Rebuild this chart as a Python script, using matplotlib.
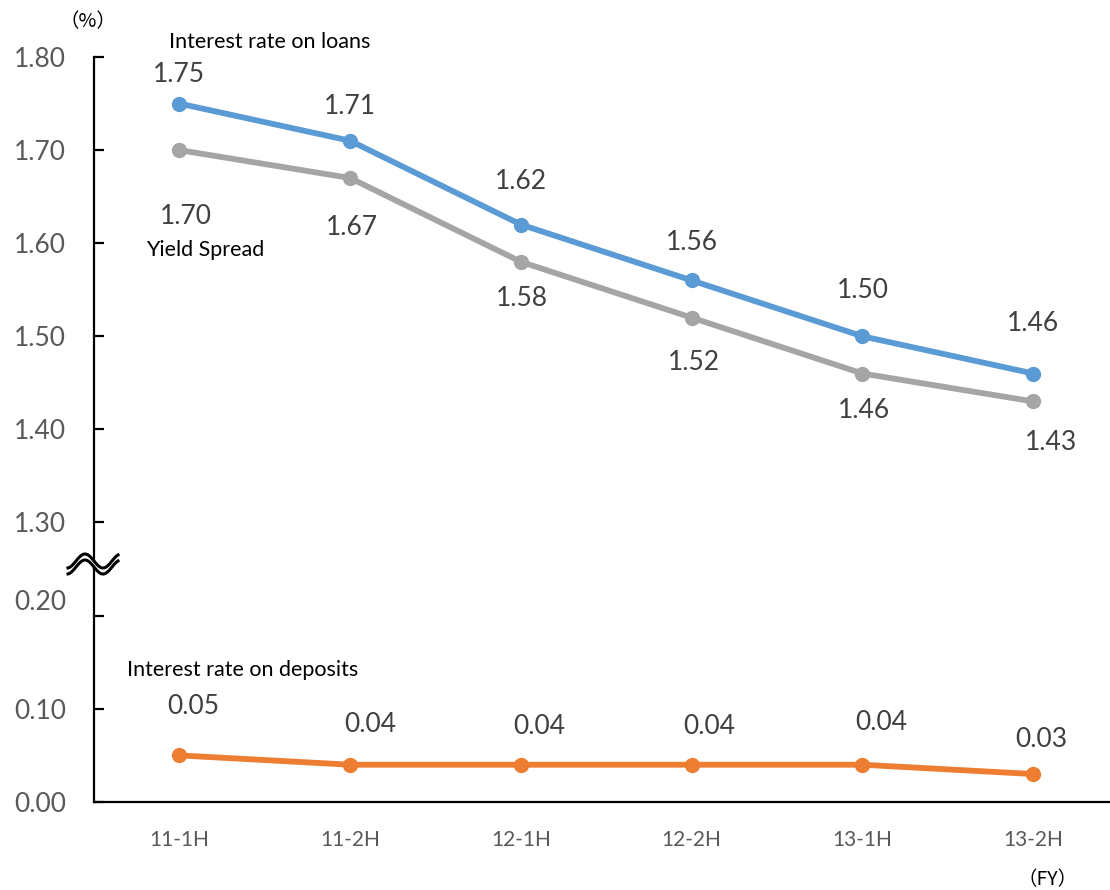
import matplotlib.pyplot as plt
import matplotlib.transforms as mtransforms
import numpy as np

plt.rcParams['font.family'] = ['Lato', 'DejaVu Sans']

# Data (%)
periods = ['11-1H', '11-2H', '12-1H', '12-2H', '13-1H', '13-2H']
loans = [1.75, 1.71, 1.62, 1.56, 1.50, 1.46]
spread = [1.70, 1.67, 1.58, 1.52, 1.46, 1.43]
deposits = [0.05, 0.04, 0.04, 0.04, 0.04, 0.03]

# label offsets in pixels (dx, dy), screen-up positive
loan_off = [(0, 29), (0, 34), (0, 43), (0, 38), (0, 46), (0, 50)]
spread_off = [(7, -66), (2, -49), (1, -37), (2, -45), (2, -37), (18, -41)]
dep_off = [(14, 49), (20, 40), (18, 38), (18, 38), (19, 42), (8, 35)]

blue = '#5B9BD5'
gray = '#A5A5A5'
orange = '#ED7D31'
tick_col = '#595959'
lab_col = '#404040'

W, H = 1110, 890
fig = plt.figure(figsize=(W / 100, H / 100), dpi=100)

left = 94 / W
ax_top_y, brk_y, ax_bot_y = 57, 569, 802
ax_t = fig.add_axes([left, 1 - brk_y / H, 1 - left, (brk_y - ax_top_y) / H])
ax_b = fig.add_axes([left, 1 - ax_bot_y / H, 1 - left, (ax_bot_y - brk_y) / H])

x = np.arange(len(periods))
for ax in (ax_t, ax_b):
    ax.set_xlim(-0.5, 5.45)
    for s in ('top', 'right'):
        ax.spines[s].set_visible(False)
    ax.spines['left'].set_linewidth(1.6)
    ax.tick_params(axis='y', direction='in', length=7, width=1.6,
                   labelsize=19, labelcolor=tick_col, pad=20)
    ax.patch.set_alpha(0)

ax_t.set_ylim(1.25, 1.80)
ax_t.set_yticks([1.30, 1.40, 1.50, 1.60, 1.70, 1.80])
ax_t.set_yticklabels(['%.2f' % v for v in ax_t.get_yticks()])
ax_t.spines['bottom'].set_visible(False)
ax_t.set_xticks([])

ax_b.set_ylim(0, 0.25)
ax_b.set_yticks([0.0, 0.1, 0.2])
ax_b.set_yticklabels(['%.2f' % v for v in ax_b.get_yticks()])
ax_b.spines['bottom'].set_linewidth(1.6)
ax_b.set_xticks(x)
ax_b.set_xticklabels(periods)
ax_b.tick_params(axis='x', length=0, labelsize=15, labelcolor=tick_col, pad=20)

# the 0.20 label sits a little above its tick
lbl = ax_b.get_yticklabels()[2]
lbl.set_transform(lbl.get_transform() + mtransforms.ScaledTranslation(0, 16 / 100, fig.dpi_scale_trans))

kw = dict(linewidth=4.2, marker='o', markersize=10, solid_capstyle='round', clip_on=False)
ax_t.plot(x, loans, color=blue, **kw)
ax_t.plot(x, spread, color=gray, **kw)
ax_b.plot(x, deposits, color=orange, **kw)


def label(ax, xs, ys, offs):
    for xi, yi, (dx, dy) in zip(xs, ys, offs):
        ax.annotate('%.2f' % yi, (xi, yi), xytext=(dx * 0.72, dy * 0.72),
                    textcoords='offset points', ha='center', va='center',
                    fontsize=19, color=lab_col)


label(ax_t, x, loans, loan_off)
label(ax_t, x, spread, spread_off)
label(ax_b, x, deposits, dep_off)

# overlay in pixel coordinates for annotations and the axis break mark
ov = fig.add_axes([0, 0, 1, 1])
ov.set_xlim(0, W)
ov.set_ylim(H, 0)
ov.axis('off')
ov.patch.set_alpha(0)

ov.text(270, 42, 'Interest rate on loans', ha='center', va='center', fontsize=15.5, color='black')
ov.text(205, 250, 'Yield Spread', ha='center', va='center', fontsize=15.5, color='black')
ov.text(243, 670, 'Interest rate on deposits', ha='center', va='center', fontsize=15.5, color='black')
cjk = ['Noto Sans CJK JP', 'DejaVu Sans']
ov.text(88, 22, '（%）', ha='center', va='center', fontsize=14, color='black', family=cjk)
ov.text(1048, 880, '（FY）', ha='center', va='center', fontsize=14, color='black', family=cjk)

# break mark: two parallel waves
wx = np.linspace(68, 118, 100)
wave = 7 * np.sin(2 * np.pi * (wx - 76) / 36)
ov.fill_between(wx, 561 - wave, 567 - wave, color='white', zorder=3)
ov.plot(wx, 561 - wave, color='black', linewidth=2.2, zorder=4)
ov.plot(wx, 567 - wave, color='black', linewidth=2.2, zorder=4)

fig.savefig('out.png', dpi=100)
